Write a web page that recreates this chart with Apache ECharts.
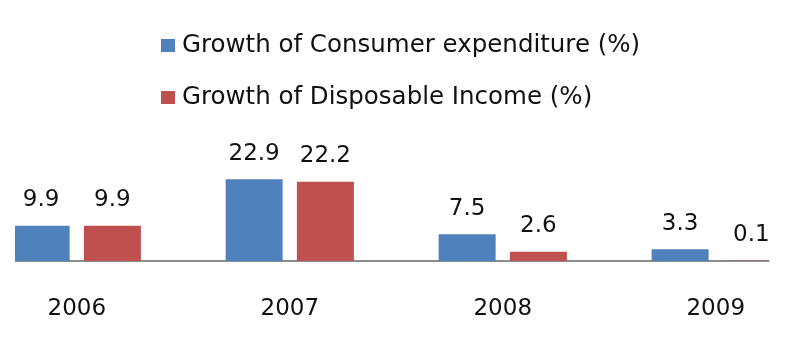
<!DOCTYPE html>
<html>
<head>
<meta charset="utf-8">
<script src="https://cdn.jsdelivr.net/npm/echarts@6/dist/echarts.min.js"></script>
<style>
html,body{margin:0;padding:0;background:#fff;}
#chart{width:787px;height:347px;}
</style>
</head>
<body>
<div id="chart"></div>
<script>
var years = ['2006', '2007', '2008', '2009'];
var consumerExpenditure = [9.9, 22.9, 7.5, 3.3];
var disposableIncome = [9.9, 22.2, 2.6, 0.1];
var seriesNames = ['Growth of Consumer expenditure (%)', 'Growth of Disposable Income (%)'];

function toPoints(arr) {
  return arr.map(function (v, i) { return [i, v]; });
}

var FONT = 'DejaVu Sans';
var labelStyle = {show: true, position: 'top', distance: 14, fontFamily: FONT, fontSize: 23, color: '#111',
  formatter: function (p) { return p.value[1].toFixed(1); }};
var chart = echarts.init(document.getElementById('chart'), null, {renderer: 'canvas'});
chart.setOption({
  animation: false,
  backgroundColor: '#ffffff',
  textStyle: {fontFamily: FONT},
  legend: {
    orient: 'vertical',
    left: 161,
    top: 33,
    padding: 0,
    itemWidth: 14,
    itemHeight: 13,
    itemGap: 27,
    icon: 'rect',
    textStyle: {fontFamily: FONT, fontSize: 24.5, color: '#111', padding: [0, 0, 0, 2]},
    data: seriesNames
  },
  grid: {left: 15, right: 18, top: 154, bottom: 86},
  xAxis: {
    type: 'value',
    min: -0.29,
    max: 3.25,
    splitLine: {show: false},
    axisTick: {show: false},
    axisLine: {show: true, onZero: false, lineStyle: {color: '#8c8c8c', width: 2}},
    axisLabel: {
      customValues: [0, 1, 2, 3],
      formatter: function (v) { return years[Math.round(v)]; },
      margin: 37,
      fontFamily: FONT,
      fontSize: 23,
      color: '#111'
    }
  },
  yAxis: {
    type: 'value',
    min: 0,
    max: 30,
    show: false
  },
  series: [
    {
      name: seriesNames[0],
      type: 'bar',
      data: toPoints(consumerExpenditure),
      barWidth: 57,
      barGap: '25%',
      itemStyle: {color: '#4F81BD'},
      label: labelStyle
    },
    {
      name: seriesNames[1],
      type: 'bar',
      data: toPoints(disposableIncome),
      barWidth: 57,
      barGap: '25%',
      itemStyle: {color: '#C0504D'},
      label: labelStyle
    }
  ]
});

// Mask bar overflow outside the plot area (value base axes are not clipped by ECharts)
var rect = chart.getModel().getComponent('grid').coordinateSystem.getRect();
var W = chart.getWidth();
chart.setOption({
  graphic: [
    {type: 'rect', z: 100, silent: true,
      shape: {x: 0, y: rect.y, width: rect.x, height: rect.height + 3},
      style: {fill: '#ffffff'}},
    {type: 'rect', z: 100, silent: true,
      shape: {x: rect.x + rect.width + 0.5, y: rect.y + rect.height - 20, width: W, height: 23},
      style: {fill: '#ffffff'}}
  ]
});
</script>
</body>
</html>
